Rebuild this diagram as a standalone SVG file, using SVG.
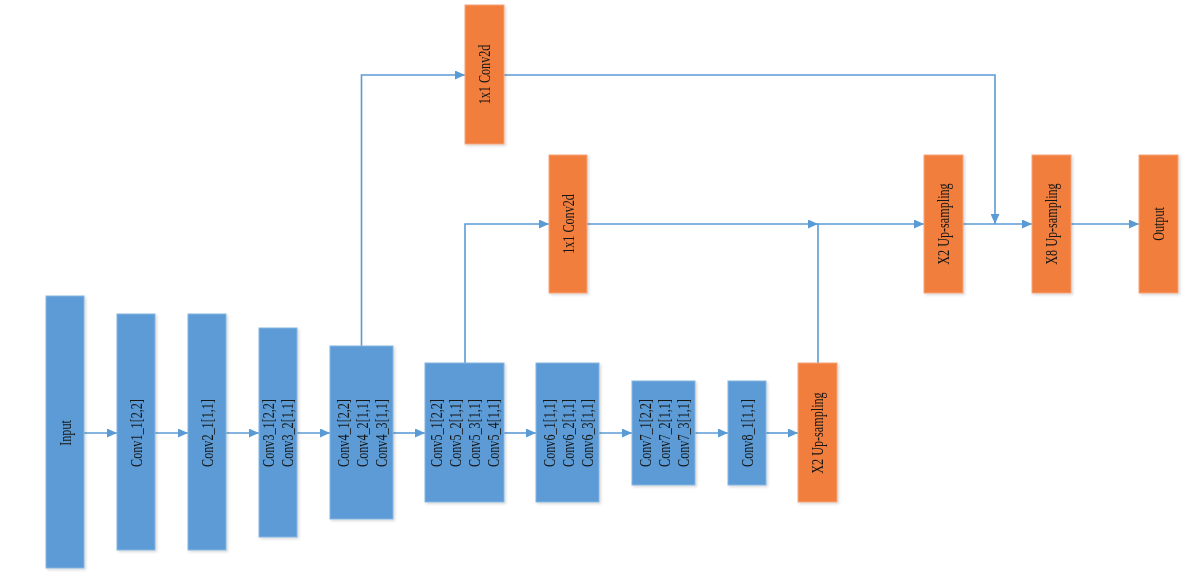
<svg xmlns="http://www.w3.org/2000/svg" width="1199" height="581" viewBox="0 0 1199 581">
<style>
.b{fill:#5B9BD5;stroke:#86B5E2;stroke-width:1}
.o{fill:#F27E3E;stroke:#F5A57A;stroke-width:1}
.t{font-family:"Liberation Serif","Times New Roman",serif;font-size:17px;fill:#151515;text-anchor:middle;dominant-baseline:central}
.c{fill:none;stroke:#5B9BD5;stroke-width:1.6}
</style>
<defs>
<marker id="ah" markerUnits="userSpaceOnUse" markerWidth="11" markerHeight="9" refX="10" refY="4.5" orient="auto">
<path d="M0,0 L10,4.5 L0,9 z" fill="#5B9BD5"/>
</marker>
<filter id="sh" x="-10%" y="-10%" width="130%" height="130%">
<feDropShadow dx="1.5" dy="1.5" stdDeviation="1" flood-color="#000" flood-opacity="0.15"/>
</filter>
</defs>
<rect width="1199" height="581" fill="#fff"/>
<g id="connectors">
<line class="c" x1="84" y1="433" x2="117" y2="433" marker-end="url(#ah)"/>
<line class="c" x1="155" y1="433" x2="188" y2="433" marker-end="url(#ah)"/>
<line class="c" x1="226" y1="433" x2="259" y2="433" marker-end="url(#ah)"/>
<line class="c" x1="297" y1="433" x2="330" y2="433" marker-end="url(#ah)"/>
<line class="c" x1="393" y1="433" x2="425" y2="433" marker-end="url(#ah)"/>
<line class="c" x1="504" y1="433" x2="536" y2="433" marker-end="url(#ah)"/>
<line class="c" x1="599" y1="433" x2="632" y2="433" marker-end="url(#ah)"/>
<line class="c" x1="695" y1="433" x2="728" y2="433" marker-end="url(#ah)"/>
<line class="c" x1="766" y1="433" x2="798" y2="433" marker-end="url(#ah)"/>
<polyline class="c" points="361.5,346 361.5,75 465,75" marker-end="url(#ah)"/>
<polyline class="c" points="465,363 465,224 549,224" marker-end="url(#ah)"/>
<line class="c" x1="587" y1="224" x2="818" y2="224" marker-end="url(#ah)"/>
<polyline class="c" points="818,363 818,224 924,224" marker-end="url(#ah)"/>
<polyline class="c" points="504,75 995,75 995,224" marker-end="url(#ah)"/>
<line class="c" x1="963" y1="224" x2="1032" y2="224" marker-end="url(#ah)"/>
<line class="c" x1="1071" y1="224" x2="1139" y2="224" marker-end="url(#ah)"/>
</g>
<g id="input" filter="url(#sh)"><rect class="b" x="46" y="296" width="38" height="272"/>
<text class="t" transform="translate(65,433) rotate(-90) scale(0.715,1)">Input</text></g>
<g id="conv1" filter="url(#sh)"><rect class="b" x="117" y="314" width="38" height="236"/>
<text class="t" transform="translate(136,433) rotate(-90) scale(0.715,1)">Conv1_1[2,2]</text></g>
<g id="conv2" filter="url(#sh)"><rect class="b" x="188" y="314" width="38" height="236"/>
<text class="t" transform="translate(207,433) rotate(-90) scale(0.715,1)">Conv2_1[1,1]</text></g>
<g id="conv3" filter="url(#sh)"><rect class="b" x="259" y="328" width="38" height="209"/>
<text class="t" transform="translate(268.5,433) rotate(-90) scale(0.715,1)">Conv3_1[2,2]</text>
<text class="t" transform="translate(287.5,433) rotate(-90) scale(0.715,1)">Conv3_2[1,1]</text></g>
<g id="conv4" filter="url(#sh)"><rect class="b" x="330" y="346" width="63" height="173"/>
<text class="t" transform="translate(343,433) rotate(-90) scale(0.715,1)">Conv4_1[2,2]</text>
<text class="t" transform="translate(362,433) rotate(-90) scale(0.715,1)">Conv4_2[1,1]</text>
<text class="t" transform="translate(381,433) rotate(-90) scale(0.715,1)">Conv4_3[1,1]</text></g>
<g id="conv5" filter="url(#sh)"><rect class="b" x="425" y="363" width="79" height="139"/>
<text class="t" transform="translate(436.5,433) rotate(-90) scale(0.715,1)">Conv5_1[2,2]</text>
<text class="t" transform="translate(455.5,433) rotate(-90) scale(0.715,1)">Conv5_2[1,1]</text>
<text class="t" transform="translate(474.5,433) rotate(-90) scale(0.715,1)">Conv5_3[1,1]</text>
<text class="t" transform="translate(493.5,433) rotate(-90) scale(0.715,1)">Conv5_4[1,1]</text></g>
<g id="conv6" filter="url(#sh)"><rect class="b" x="536" y="363" width="63" height="139"/>
<text class="t" transform="translate(549.5,433) rotate(-90) scale(0.715,1)">Conv6_1[1,1]</text>
<text class="t" transform="translate(568.5,433) rotate(-90) scale(0.715,1)">Conv6_2[1,1]</text>
<text class="t" transform="translate(587.5,433) rotate(-90) scale(0.715,1)">Conv6_3[1,1]</text></g>
<g id="conv7" filter="url(#sh)"><rect class="b" x="632" y="381" width="63" height="104"/>
<text class="t" transform="translate(645,433) rotate(-90) scale(0.715,1)">Conv7_1[2,2]</text>
<text class="t" transform="translate(664,433) rotate(-90) scale(0.715,1)">Conv7_2[1,1]</text>
<text class="t" transform="translate(683,433) rotate(-90) scale(0.715,1)">Conv7_3[1,1]</text></g>
<g id="conv8" filter="url(#sh)"><rect class="b" x="728" y="381" width="38" height="104"/>
<text class="t" transform="translate(747,433) rotate(-90) scale(0.715,1)">Conv8_1[1,1]</text></g>
<g id="up2a" filter="url(#sh)"><rect class="o" x="798" y="363" width="39" height="139"/>
<text class="t" transform="translate(817.5,433) rotate(-90) scale(0.715,1)">X2 Up-sampling</text></g>
<g id="conv1x1a" filter="url(#sh)"><rect class="o" x="465" y="5" width="39" height="139"/>
<text class="t" transform="translate(484.5,74.5) rotate(-90) scale(0.715,1)">1x1 Conv2d</text></g>
<g id="conv1x1b" filter="url(#sh)"><rect class="o" x="549" y="155" width="38" height="138"/>
<text class="t" transform="translate(568,224) rotate(-90) scale(0.715,1)">1x1 Conv2d</text></g>
<g id="up2b" filter="url(#sh)"><rect class="o" x="924" y="155" width="39" height="138"/>
<text class="t" transform="translate(943.5,224) rotate(-90) scale(0.715,1)">X2 Up-sampling</text></g>
<g id="up8" filter="url(#sh)"><rect class="o" x="1032" y="155" width="39" height="138"/>
<text class="t" transform="translate(1051.5,224) rotate(-90) scale(0.715,1)">X8 Up-sampling</text></g>
<g id="output" filter="url(#sh)"><rect class="o" x="1139" y="155" width="39" height="138"/>
<text class="t" transform="translate(1158.5,224) rotate(-90) scale(0.715,1)">Output</text></g>
</svg>
